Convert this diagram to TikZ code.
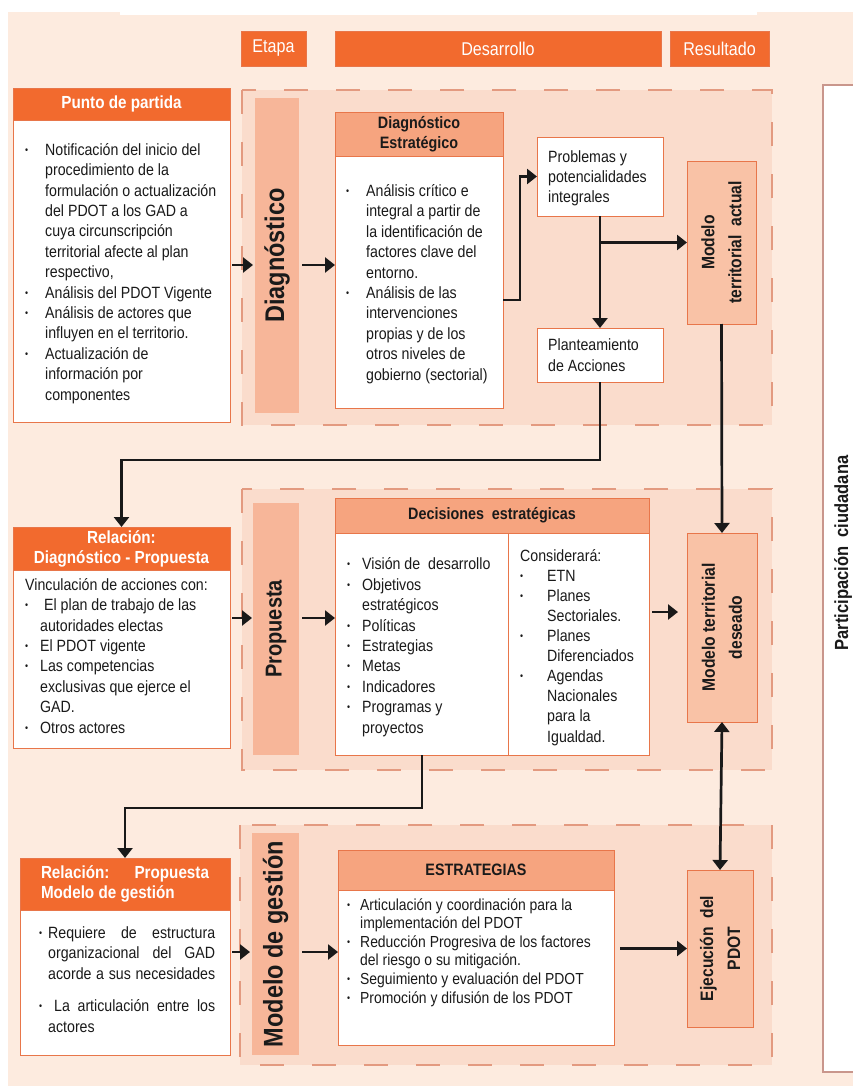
\documentclass[tikz,border=0pt]{standalone}
\usepackage{fontspec}
\setmainfont{Liberation Sans}[FakeStretch=0.87]
\usetikzlibrary{arrows.meta}
\usetikzlibrary{positioning}

\definecolor{pagebg}{HTML}{FDEBDF}
\definecolor{framebg}{HTML}{FADCCC}
\definecolor{dashline}{HTML}{E39A80}
\definecolor{orangehd}{HTML}{F26A2E}
\definecolor{orangeln}{HTML}{E8764A}
\definecolor{salmonhd}{HTML}{F6A47F}
\definecolor{barfill}{HTML}{F7B699}
\definecolor{resfill}{HTML}{F9C2A6}
\definecolor{inkgray}{HTML}{1A1A1A}
\definecolor{partline}{HTML}{C9968C}

\newcommand\bodyfont{\fontsize{16.3}{20.4}\selectfont}
\newcommand\tabfont{\fontsize{18.5}{20}\selectfont}
\newcommand\headfont{\bfseries\fontsize{17.5}{20}\selectfont}
\newcommand\subheadfont{\bfseries\fontsize{16.5}{20}\selectfont}
\newcommand\stagefont{\bfseries\fontsize{27}{30}\selectfont}
\newcommand\resfont{\bfseries\fontsize{18}{27}\selectfont}
\newcommand\partfont{\bfseries\fontsize{19}{22}\selectfont}

% bullets for the lists
\newcommand\bul{\raisebox{0.12em}{\fontsize{10}{10}\selectfont\textbullet}}
\newcommand\bi[1][20pt]{\makebox[#1][l]{\bul}}
\newcommand\ci[1][20pt]{\hspace*{#1}}

\tikzset{
  boxbase/.style={inner sep=0pt, outer sep=0pt, anchor=north west},
  tabhead/.style={boxbase, fill=orangehd, draw=orangeln, line width=0.6pt, text=white, font=\tabfont},
  orangehead/.style={boxbase, fill=orangehd, draw=orangeln, line width=0.8pt, text=white, font=\headfont, align=center},
  salmonhead/.style={boxbase, fill=salmonhd, draw=orangeln, line width=0.8pt, text=inkgray, font=\subheadfont, align=center},
  bodybox/.style={boxbase, fill=white, draw=orangeln, line width=0.8pt},
  stagebar/.style={boxbase, fill=barfill},
  stagetext/.style={rotate=90, font=\stagefont, text=inkgray, inner sep=0pt},
  resbox/.style={boxbase, fill=resfill, draw=orangeln, line width=0.8pt},
  restext/.style={rotate=90, font=\resfont, text=inkgray, align=center, inner sep=0pt},
  % lists are placed by the baseline of their last line
  listtext/.style={anchor=base west, inner sep=0pt, align=left, font=\bodyfont, text=inkgray},
  stageframe/.style={fill=framebg, draw=dashline, line width=1.2pt, dash pattern=on 24pt off 28pt},
  flow/.style={line width=2.7pt, draw=black!90, -{Triangle[width=15pt,length=10pt]}},
}

\begin{document}
\begin{tikzpicture}[x=1pt, y=-1pt]
\useasboundingbox (0,0) rectangle (853,1086);
% page background
\fill[pagebg] (8,12) rectangle (853,1086);
\fill[white] (120,0) rectangle (757,15);

% column tabs
\node[tabhead, minimum width=65pt, minimum height=35pt] (etapa) at (241,31) {Etapa};
\node[tabhead, minimum width=326pt, minimum height=35pt] (desarrollo) at (335,31) {Desarrollo};
\node[tabhead, minimum width=99pt, minimum height=35pt] (resultado) at (670,31) {Resultado};

% stage frames
\filldraw[stageframe] (242,90) rectangle (772,425);
\filldraw[stageframe] (242,489) rectangle (772,770);
\filldraw[stageframe] (240,825) rectangle (772,1065);

% participacion ciudadana
\draw[partline, line width=1.2pt, fill=white] (823,85) rectangle (870,1072);
\node[rotate=90, font=\partfont, text=inkgray, inner sep=0pt] (participa) at (843,553) {Participación\ \ ciudadana};

%% Diagnostico
\node[orangehead, minimum width=217pt, minimum height=32pt] (puntohead) at (13,88) {Punto de partida};
\node[bodybox, minimum width=217pt, minimum height=302pt] (punto) at (13,120) {};
\node[listtext] (puntotxt) at (25,400) {\bi Notificación del inicio del\\
  \ci procedimiento de la\\
  \ci formulación o actualización\\
  \ci del PDOT a los GAD a\\
  \ci cuya circunscripción\\
  \ci territorial afecte al plan\\
  \ci respectivo,\\
  \bi Análisis del PDOT Vigente\\
  \bi Análisis de actores que\\
  \ci influyen en el territorio.\\
  \bi Actualización de\\
  \ci información por\\
  \ci componentes};

\node[stagebar, minimum width=44pt, minimum height=315pt] (diagbar) at (255,98) {};
\node[stagetext] (diagbartxt) at (diagbar.center) {Diagnóstico};

\node[salmonhead, minimum width=168pt, minimum height=44pt] (diagesthead) at (335,112) {Diagnóstico\\Estratégico};
\node[bodybox, minimum width=168pt, minimum height=252pt] (diagest) at (335,156) {};
\node[listtext] (diagesttxt) at (346,380) {\bi Análisis crítico e\\
  \ci integral a partir de\\
  \ci la identificación de\\
  \ci factores clave del\\
  \ci entorno.\\
  \bi Análisis de las\\
  \ci intervenciones\\
  \ci propias y de los\\
  \ci otros niveles de\\
  \ci gobierno (sectorial)};

\node[bodybox, minimum width=126pt, minimum height=79pt] (problemas) at (537,137) {};
\node[listtext] (problemastxt) at (548,203) {Problemas y\\potencialidades\\integrales};
\node[bodybox, minimum width=126pt, minimum height=54pt] (planteo) at (537,328) {};
\node[listtext] (planteotxt) at (548,371) {Planteamiento\\de Acciones};

\node[resbox, minimum width=69pt, minimum height=163pt] (mtactual) at (687,161) {};
\node[restext] (mtactualtxt) at (mtactual.center) {Modelo\\territorial\ \ actual};

%% Propuesta
\node[orangehead, minimum width=217pt, minimum height=43pt] (relprophead) at (13,527) {Relación:\\Diagnóstico - Propuesta};
\node[bodybox, minimum width=217pt, minimum height=178pt] (relprop) at (13,570) {};
\node[listtext] (relproptxt) at (25,733) {Vinculación de acciones con:\\
  \bi[15pt]\hspace{4pt}El plan de trabajo de las\\
  \ci[15pt]autoridades electas\\
  \bi[15pt]El PDOT vigente\\
  \bi[15pt]Las competencias\\
  \ci[15pt]exclusivas que ejerce el\\
  \ci[15pt]GAD.\\
  \bi[15pt]Otros actores};

\node[stagebar, minimum width=46pt, minimum height=252pt] (propbar) at (253,503) {};
\node[stagetext, font=\bfseries\fontsize{23}{26}\selectfont] (propbartxt) at (propbar.center) {Propuesta};

\node[salmonhead, minimum width=314pt, minimum height=35pt] (dechead) at (335,498) {Decisiones\ \ estratégicas};
\node[bodybox, minimum width=173pt, minimum height=222pt] (decleft) at (335,533) {};
\node[bodybox, minimum width=141pt, minimum height=222pt] (decright) at (508,533) {};
\node[listtext] (declefttxt) at (347,733) {\bi[15pt]Visión de\ \ desarrollo\\
  \bi[15pt]Objetivos\\
  \ci[15pt]estratégicos\\
  \bi[15pt]Políticas\\
  \bi[15pt]Estrategias\\
  \bi[15pt]Metas\\
  \bi[15pt]Indicadores\\
  \bi[15pt]Programas y\\
  \ci[15pt]proyectos};
\node[listtext, font=\fontsize{16.3}{20.1}\selectfont] (decrighttxt) at (520,742) {Considerará:\\
  \bi[27pt]ETN\\
  \bi[27pt]Planes\\
  \ci[27pt]Sectoriales.\\
  \bi[27pt]Planes\\
  \ci[27pt]Diferenciados\\
  \bi[27pt]Agendas\\
  \ci[27pt]Nacionales\\
  \ci[27pt]para la\\
  \ci[27pt]Igualdad.};

\node[resbox, minimum width=70pt, minimum height=189pt] (mtdeseado) at (687,533) {};
\node[restext] (mtdeseadotxt) at (mtdeseado.center) {Modelo territorial\\deseado};

%% Modelo de gestion
\node[orangehead, minimum width=210pt, minimum height=52pt, align=left] (relgesthead) at (20,858) {\makebox[168pt][s]{Relación: Propuesta}\\Modelo de gestión};
\node[bodybox, minimum width=210pt, minimum height=145pt] (relgest) at (20,910) {};
\node[listtext] (relgesttxt) at (39,1032) {\bi[9pt]\makebox[167pt][s]{Requiere de estructura}\\
  \ci[9pt]\makebox[167pt][s]{organizacional del GAD}\\
  \ci[9pt]\makebox[167pt][s]{acorde a sus necesidades}\\[12pt]
  \bi[15pt]\makebox[161pt][s]{La articulación entre los}\\
  \ci[9pt]actores};

\node[stagebar, minimum width=47pt, minimum height=222pt] (gestbar) at (252,833) {};
\node[stagetext] (gestbartxt) at (gestbar.center) {Modelo de gestión};

\node[salmonhead, minimum width=276pt, minimum height=40pt] (esthead) at (338,850) {ESTRATEGIAS};
\node[bodybox, minimum width=276pt, minimum height=155pt] (estbody) at (338,890) {};
\node[listtext, font=\fontsize{16}{18.6}\selectfont] (esttxt) at (347,1003) {\bi[13pt]Articulación y coordinación para la\\
  \ci[13pt]implementación del PDOT\\
  \bi[13pt]Reducción Progresiva de los factores\\
  \ci[13pt]del riesgo o su mitigación.\\
  \bi[13pt]Seguimiento y evaluación del PDOT\\
  \bi[13pt]Promoción y difusión de los PDOT};

\node[resbox, minimum width=66pt, minimum height=157pt] (ejecucion) at (687,870) {};
\node[restext] (ejecuciontxt) at (ejecucion.center) {Ejecución\ \ del\\PDOT};

%% connectors
\coordinate (row1) at (0,265);
\coordinate (row1b) at (0,300);
\coordinate (row2) at (0,618);
\coordinate (row3) at (0,952);
\coordinate (decout) at (652,612);
\coordinate (decdown) at (422,755);

\draw[flow, shorten <=2pt, shorten >=2pt] (punto.east |- row1) -- (diagbar.west |- row1);
\draw[flow, shorten <=3pt] (diagbar.east |- row1) -- (diagest.west |- row1);
\draw[flow] (diagest.east |- row1b) -- ++(17,0) |- (problemas.west);
\draw[flow] (problemas.south) -- (planteo.north);
\draw[flow] (problemas.south |- mtactual.west) -- (mtactual.west);
\draw[flow] (mtactual.south) -- (mtdeseado.north);
\draw[flow] (planteo.south) -- ++(0,78) -| (relprophead.north);

\draw[flow, shorten <=2pt, shorten >=1pt] (relprop.east |- row2) -- (propbar.west |- row2);
\draw[flow, shorten <=3pt] (propbar.east |- row2) -- (decleft.west |- row2);
\draw[flow, shorten >=9pt] (decout) -- (decout -| mtdeseado.west);
\draw[flow] (decdown) -- ++(0,53) -| (relgesthead.north);

\draw[flow, shorten <=2pt, shorten >=2pt] (relgest.east |- row3) -- (gestbar.west |- row3);
\draw[flow, shorten <=3pt] (gestbar.east |- row3) -- (estbody.west |- row3);
\draw[flow, shorten <=6pt] (estbody.east |- ejecucion.west) -- (ejecucion.west);
\draw[flow, {Triangle[width=15pt,length=10pt]}-{Triangle[width=15pt,length=10pt]}] (mtdeseado.south) -- (ejecucion.north);
\end{tikzpicture}
\end{document}
